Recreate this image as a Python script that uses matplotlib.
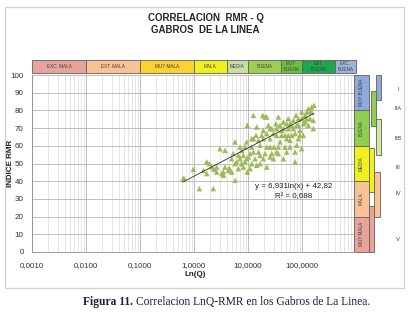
import matplotlib
matplotlib.use("Agg")
import matplotlib.pyplot as plt
import matplotlib.transforms as mtransforms
from matplotlib.patches import Rectangle
import numpy as np

plt.rcParams['font.family'] = ['Liberation Sans', 'DejaVu Sans']

# ---------------- data ----------------
q_values = [0.62, 0.65, 0.97, 1.26, 1.72, 1.92, 2.28, 2.35, 2.63, 3.26, 3.50, 3.75, 3.03, 3.75, 4.52,
            4.99, 5.36, 5.75, 5.75, 6.18, 6.63, 7.12, 7.64, 7.64, 8.20, 8.81, 8.81, 9.46, 9.73, 10.2,
            10.9, 11.7, 11.7, 12.6, 12.6, 13.5, 14.1, 14.5, 15.6, 16.7, 16.7, 17.9, 18.7, 19.2, 20.7,
            20.7, 22.2, 22.2, 23.8, 25.6, 25.6, 27.5, 27.5, 29.5, 30.3, 33.0, 34.0, 34.0, 36.5, 39.2,
            39.2, 42.1, 45.2, 48.5, 48.5, 52.0, 55.8, 55.8, 60.0, 60.0, 64.4, 69.2, 74.3, 77.5, 79.8,
            85.7, 85.7, 91.9, 98.6, 106, 106, 114, 122, 131, 141, 151, 162, 162, 167, 131,
            98.6, 79.8, 74.3, 52.0, 45.2, 36.5, 29.5, 22.2, 19.2, 14.5, 10.9, 9.73, 8.20, 6.63, 4.99,
            4.33, 3.50, 2.63, 2.13, 1.72, 1.49,
            25.6, 34.0, 45.2, 52.0, 64.4, 69.2, 85.7, 98.6, 114, 141, 151, 122, 42.1, 55.8, 74.3,
            91.9, 19.2, 15.6, 11.7, 25.6, 36.5, 60.0, 16.7, 12.6, 7.12, 9.46, 5.75, 22.2]
rmr_values = [41.1, 41.8, 46.7, 35.8, 50.9, 49.9, 35.8, 46.7, 48.0, 44.3, 45.2, 57.4, 58.4, 48.0, 47.5,
              52.7, 55.6, 40.5, 62.2, 50.9, 54.6, 52.7, 49.9, 57.4, 54.6, 50.9, 59.3, 62.2, 71.6, 53.7,
              55.6, 59.3, 49.9, 77.2, 64.0, 52.7, 65.9, 70.6, 56.5, 54.6, 60.3, 65.9, 77.2, 68.7, 76.3,
              55.6, 59.3, 66.9, 71.6, 64.0, 53.7, 69.7, 55.6, 66.9, 59.3, 72.5, 65.9, 56.5, 76.3, 71.6,
              62.2, 68.7, 73.5, 65.9, 59.3, 64.0, 69.7, 75.3, 72.5, 63.1, 65.9, 69.7, 50.9, 77.2, 71.6,
              64.0, 75.3, 68.7, 79.1, 72.5, 65.9, 77.2, 75.3, 81.0, 79.1, 81.9, 74.4, 69.7, 82.9, 71.6,
              58.4, 60.3, 56.5, 56.5, 52.7, 55.6, 52.7, 48.0, 52.7, 49.0, 47.1, 45.2, 48.0, 47.1, 45.2,
              46.1, 43.3, 45.2, 48.0, 44.3, 46.1,
              69.7, 69.7, 69.7, 72.5, 71.6, 74.4, 71.6, 75.3, 73.5, 75.3, 79.1, 79.1, 65.9, 65.9, 66.9,
              65.9, 64.0, 63.1, 64.0, 59.3, 59.3, 59.3, 49.9, 56.5, 59.3, 52.7, 49.9, 76.3]

trend_slope = 6.931
trend_intercept = 42.82
trend_q_range = [0.62, 167]
equation_text = "y = 6,931ln(x) + 42,82"
r2_text = "R² = 0,688"

x_ticks = [0.001, 0.01, 0.1, 1, 10, 100]
x_tick_labels = ["0,0010", "0,0100", "0,1000", "1,0000", "10,0000", "100,0000"]
y_ticks = [0, 10, 20, 30, 40, 50, 60, 70, 80, 90, 100]

# Q classes (top band)
q_class_edges = [0.001, 0.01, 0.1, 1, 4, 10, 40, 100, 400, 1000]
q_class_labels = ["EXC. MALA", "EXT. MALA", "MUY MALA", "MALA", "MEDIA", "BUENA",
                  "MUY\nBUENA", "EXT.\nBUENA", "EXC.\nBUENA"]
q_class_colors = ["#e8a39b", "#f8c294", "#fcd232", "#f0f01e", "#c6e0a4", "#9cce52",
                  "#6cbf3e", "#1aa84a", "#9ab4dc"]

# RMR classes (right stacked bar)
rmr_class_edges = [0, 20, 40, 60, 80, 100]
rmr_class_labels = ["MUY MALA", "MALA", "MEDIA", "BUENA", "MUY BUENA"]
rmr_class_colors = ["#e8a39b", "#f8c294", "#f0f01e", "#8fcf4f", "#8eaadb"]

# Roman classes (thin bars)
roman_labels = ["I", "IIA", "IIB", "III", "IV", "V"]
roman_low = [86, 71, 55, 34, 20, 0]
roman_high = [100, 91, 75, 59, 45, 26]
roman_colors = ["#8eaadb", "#8fcf4f", "#d2e6a6", "#f0f01e", "#f8c294", "#e8a39b"]
roman_label_rmr = [92, 81, 64, 48, 33, 7]

# ---------------- figure ----------------
W, H = 411, 313
fig = plt.figure(figsize=(W / 100, H / 100), dpi=100)
fig.patch.set_facecolor("white")

def fx(px):
    return px / W

def fy(py):
    return 1 - py / H

# chart border
fig.add_artist(Rectangle((fx(5), fy(288)), fx(404) - fx(5), fy(7) - fy(288),
                         transform=fig.transFigure, fill=False, edgecolor="#d4d4d4", lw=1.0))

ax = fig.add_axes([fx(32), fy(252), fx(356) - fx(32), fy(75) - fy(252)])
ax.set_xscale("log")
ax.set_xlim(0.001, 1000)
ax.set_ylim(0, 100)

ax.grid(True, which="major", axis="both", color="#b4b4b4", lw=0.6)
ax.grid(True, which="minor", axis="x", color="#dadada", lw=0.5)
ax.set_axisbelow(True)
for s in ["top", "right"]:
    ax.spines[s].set_visible(False)
for s in ["left", "bottom"]:
    ax.spines[s].set_color("#909090")
    ax.spines[s].set_linewidth(0.6)

ax.set_xticks(x_ticks)
ax.set_xticklabels(x_tick_labels)
ax.set_yticks(y_ticks)
ax.tick_params(axis="both", which="both", length=0, labelsize=5.8, colors="#303030")
ax.tick_params(axis="x", pad=7)
ax.tick_params(axis="y", pad=6)

ax.scatter(q_values, rmr_values, marker="^", s=16, color="#9bbb59", edgecolors="none", zorder=3)

tq = np.logspace(np.log10(trend_q_range[0]), np.log10(trend_q_range[1]), 100)
ax.plot(tq, trend_slope * np.log(tq) + trend_intercept, color="#303030", lw=0.6, zorder=4)

fig.text(fx(294), fy(187), equation_text, fontsize=5.7, ha="center", va="center", color="#202020")
fig.text(fx(294), fy(197), r2_text, fontsize=5.7, ha="center", va="center", color="#202020")

fig.text(fx(10), fy(163), "INDICE RMR", fontsize=5.8, fontweight="bold", rotation=90,
         ha="center", va="center", color="#202020")
fig.text(fx(195), fy(274), "Ln(Q)", fontsize=5.8, fontweight="bold",
         ha="center", va="center", color="#202020")

# top Q-class band
tr_top = mtransforms.blended_transform_factory(ax.transData, fig.transFigure)
band_y0, band_y1 = fy(73), fy(60)
for i, lab in enumerate(q_class_labels):
    x0, x1 = q_class_edges[i], q_class_edges[i + 1]
    ax.add_patch(Rectangle((x0, band_y0), x1 - x0, band_y1 - band_y0, transform=tr_top,
                           facecolor=q_class_colors[i], edgecolor="#606060", lw=0.6, clip_on=False))
    xm = np.sqrt(x0 * x1)
    ax.text(xm, (band_y0 + band_y1) / 2, lab, transform=tr_top, fontsize=3.3,
            ha="center", va="center", color="#404040", linespacing=1.2, clip_on=False)

# right RMR-class stacked bar
tr_right = mtransforms.blended_transform_factory(fig.transFigure, ax.transData)
for i, lab in enumerate(rmr_class_labels):
    y0, y1 = rmr_class_edges[i], rmr_class_edges[i + 1]
    ax.add_patch(Rectangle((fx(354), y0), fx(369) - fx(354), y1 - y0, transform=tr_right,
                           facecolor=rmr_class_colors[i], edgecolor="#606060", lw=0.6, clip_on=False))
    ax.text(fx(361.5), (y0 + y1) / 2, lab, transform=tr_right, fontsize=3.3, rotation=90,
            ha="center", va="center", color="#404040", clip_on=False)

# roman class thin bars
roman_x = [(376, 381), (370.5, 375.5), (376, 381), (369, 374), (374, 380), (369, 374)]
for i, lab in enumerate(roman_labels):
    xa, xb = roman_x[i]
    ax.add_patch(Rectangle((fx(xa), roman_low[i]), fx(xb) - fx(xa), roman_high[i] - roman_low[i],
                           transform=tr_right, facecolor=roman_colors[i], edgecolor="#606060",
                           lw=0.6, clip_on=False, zorder=5 if lab in ("I", "IIB", "IV") else 4))
    ax.text(fx(398), roman_label_rmr[i], lab, transform=tr_right, fontsize=4.2,
            ha="center", va="center", color="#404040", clip_on=False)

# title
fig.text(0.5, fy(18), "CORRELACION  RMR - Q", ha="center", va="center", fontsize=7,
         fontweight="bold", color="#262626")
fig.text(0.5, fy(30), "GABROS  DE LA LINEA", ha="center", va="center", fontsize=7,
         fontweight="bold", color="#262626")

# caption
cap_color = "#1c1c3c"
t1 = fig.text(fx(83), fy(302), "Figura 11.", ha="left", va="center", fontsize=8.3,
              fontweight="bold", family="Liberation Serif", color=cap_color)
fig.canvas.draw()
bb = t1.get_window_extent()
fig.text(bb.x1 / W + fx(3), fy(302), "Correlacion LnQ-RMR en los Gabros de La Linea.",
         ha="left", va="center", fontsize=8.3, family="Liberation Serif", color=cap_color)

fig.savefig("out.png", dpi=100)
